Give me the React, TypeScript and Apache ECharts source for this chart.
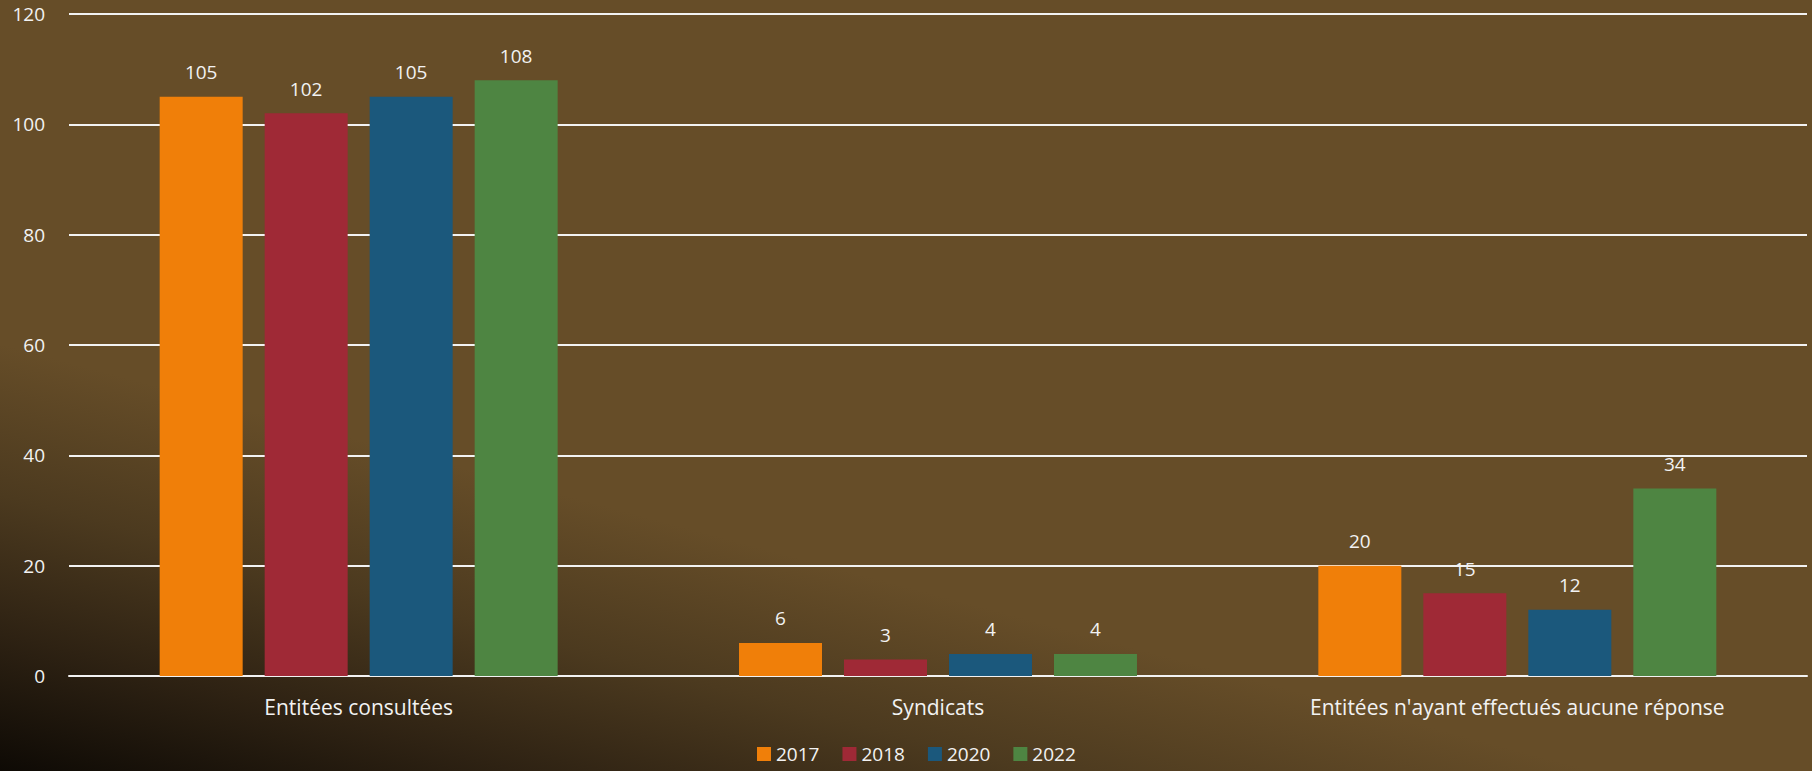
import React, { useEffect, useRef } from "react";
import * as echarts from "echarts";

const categories = ["Entitées consultées", "Syndicats", "Entitées n'ayant effectués aucune réponse"];
const seriesNames = ["2017", "2018", "2020", "2022"];
const values2017 = [105, 6, 20];
const values2018 = [102, 3, 15];
const values2020 = [105, 4, 12];
const values2022 = [108, 4, 34];
const colors = ["#F07F09", "#9F2936", "#1B587C", "#4E8542"];
const yTicks = { min: 0, max: 120, interval: 20 };

const FONT = "'Open Sans', 'Noto Sans', sans-serif";

export default function App() {
  const ref = useRef<HTMLDivElement>(null);
  useEffect(() => {
    if (!ref.current) return;
    const chart = echarts.init(ref.current, undefined, { renderer: "svg" });
    const all = [values2017, values2018, values2020, values2022];
    chart.setOption({
      animation: false,
      backgroundColor: "transparent",
      textStyle: { fontFamily: FONT },
      grid: { left: 69, right: 5, top: 14, bottom: 95, containLabel: false },
      legend: {
        data: seriesNames,
        left: 757,
        top: 744,
        icon: "rect",
        itemWidth: 14,
        itemHeight: 14,
        itemGap: 23,
        padding: 0,
        textStyle: { color: "#F2F2F2", fontSize: 19, lineHeight: 20, fontFamily: FONT },
      },
      xAxis: {
        type: "category",
        data: categories,
        axisLine: { show: true, lineStyle: { color: "#F2F2F2", width: 2 } },
        axisTick: { show: false },
        axisLabel: { color: "#F2F2F2", fontSize: 21, margin: 20, fontFamily: FONT },
      },
      yAxis: {
        type: "value",
        min: yTicks.min,
        max: yTicks.max,
        interval: yTicks.interval,
        axisLine: { show: false },
        axisTick: { show: false },
        axisLabel: { color: "#F2F2F2", fontSize: 19, margin: 24, fontFamily: FONT },
        splitLine: { lineStyle: { color: "#F2F2F2", width: 2 } },
      },
      series: seriesNames.map((name, i) => ({
        name,
        type: "bar",
        data: all[i],
        barWidth: 83,
        barGap: "26.5%",
        itemStyle: { color: colors[i] },
        label: {
          show: true,
          position: "top",
          distance: 15,
          color: "#F2F2F2",
          fontSize: 19,
          fontFamily: FONT,
        },
      })),
    });
    return () => chart.dispose();
  }, []);
  return (
    <div
      style={{
        position: "fixed",
        left: 0,
        top: 0,
        width: 1812,
        height: 771,
        background:
          "linear-gradient(195deg, #664D28 0%, #664D28 66%, #4C3A1F 78%, #2E2213 89%, #0E0A05 100%)",
      }}
    >
      <div ref={ref} style={{ width: 1812, height: 771 }} />
    </div>
  );
}
